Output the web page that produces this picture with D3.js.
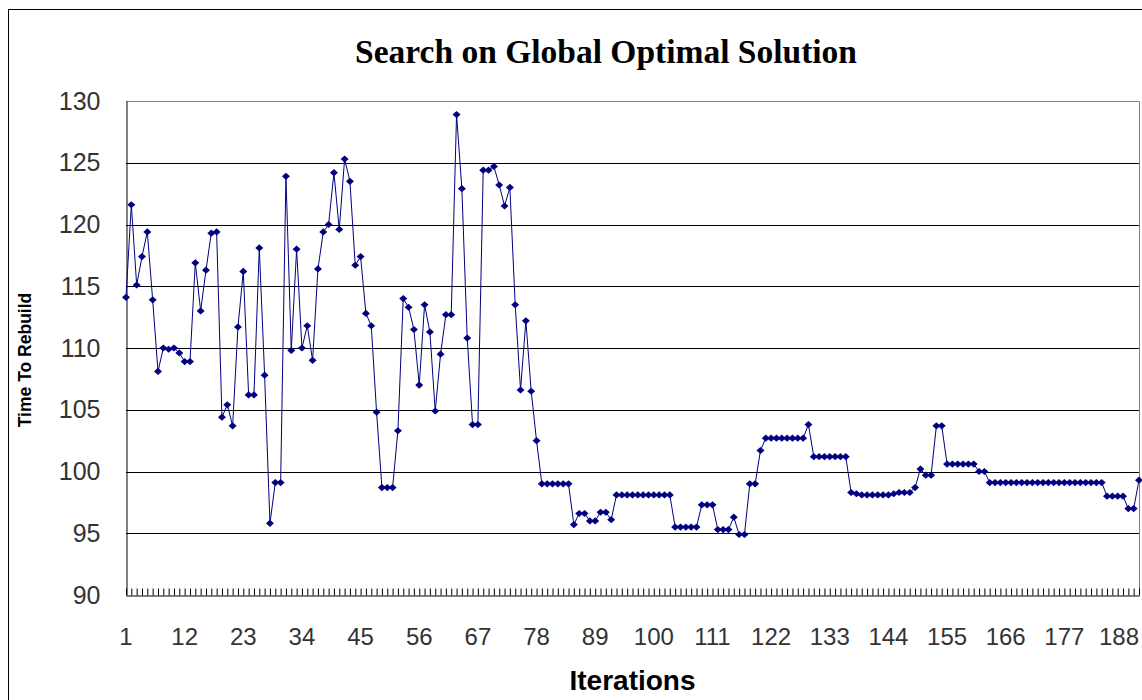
<!DOCTYPE html>
<html>
<head>
<meta charset="utf-8">
<script src="https://cdn.jsdelivr.net/npm/d3@7"></script>
<style>
  html, body { margin: 0; padding: 0; background: #fff; }
  svg { display: block; }
</style>
</head>
<body>
<svg id="chart" width="1142" height="700"></svg>
<script>
// Time-to-rebuild per search iteration
const iterationValues = [
  114.1, 121.6, 115.1, 117.4, 119.4, 113.9, 108.1, 110.0, 109.9, 110.0,
  109.6, 108.9, 108.9, 116.9, 113.0, 116.3, 119.3, 119.4, 104.4, 105.4,
  103.7, 111.7, 116.2, 106.2, 106.2, 118.1, 107.8, 95.8, 99.1, 99.1,
  123.9, 109.8, 118.0, 110.0, 111.8, 109.0, 116.4, 119.4, 120.0, 124.2,
  119.6, 125.3, 123.5, 116.7, 117.4, 112.8, 111.8, 104.8, 98.7, 98.7,
  98.7, 103.3, 114.0, 113.3, 111.5, 107.0, 113.5, 111.3, 104.9, 109.5,
  112.7, 112.7, 128.9, 122.9, 110.8, 103.8, 103.8, 124.4, 124.4, 124.7,
  123.2, 121.5, 123.0, 113.5, 106.6, 112.2, 106.5, 102.5, 99.0, 99.0,
  99.0, 99.0, 99.0, 99.0, 95.7, 96.6, 96.6, 96.0, 96.0, 96.7,
  96.7, 96.1, 98.1, 98.1, 98.1, 98.1, 98.1, 98.1, 98.1, 98.1,
  98.1, 98.1, 98.1, 95.5, 95.5, 95.5, 95.5, 95.5, 97.3, 97.3,
  97.3, 95.3, 95.3, 95.3, 96.3, 94.9, 94.9, 99.0, 99.0, 101.7,
  102.7, 102.7, 102.7, 102.7, 102.7, 102.7, 102.7, 102.7, 103.8, 101.2,
  101.2, 101.2, 101.2, 101.2, 101.2, 101.2, 98.3, 98.2, 98.1, 98.1,
  98.1, 98.1, 98.1, 98.1, 98.2, 98.3, 98.3, 98.3, 98.7, 100.2,
  99.7, 99.7, 103.7, 103.7, 100.6, 100.6, 100.6, 100.6, 100.6, 100.6,
  100.0, 100.0, 99.1, 99.1, 99.1, 99.1, 99.1, 99.1, 99.1, 99.1,
  99.1, 99.1, 99.1, 99.1, 99.1, 99.1, 99.1, 99.1, 99.1, 99.1,
  99.1, 99.1, 99.1, 99.1, 98.0, 98.0, 98.0, 98.0, 97.0, 97.0,
  99.3
];
const iterations = iterationValues.map((_, i) => i + 1);
const xTickLabels = [1, 12, 23, 34, 45, 56, 67, 78, 89, 100, 111, 122, 133, 144, 155, 166, 177, 188];
const yTickValues = [90, 95, 100, 105, 110, 115, 120, 125, 130];

const chartTitle = "Search on Global Optimal Solution";
const xTitle = "Iterations";
const yTitle = "Time To Rebuild";

const width = 1142;
const svg = d3.select("#chart");
const plot = { left: 126, right: 1139, top: 101, bottom: 595 };
const labelFont = "'Liberation Sans', Arial, sans-serif";

// outer chart-area frame
svg.append("rect")
  .attr("x", 8.5).attr("y", 9.5)
  .attr("width", 1196).attr("height", 720)
  .attr("fill", "#fff").attr("stroke", "#000").attr("stroke-width", 1);

const x = d3.scalePoint().domain(iterations).range([plot.left, plot.right]).padding(0);
const y = d3.scaleLinear().domain([90, 130]).range([plot.bottom, plot.top]);

// horizontal gridlines
svg.append("g")
  .selectAll("line")
  .data(yTickValues.filter(v => v > 90 && v < 130))
  .join("line")
  .attr("x1", plot.left).attr("x2", plot.right)
  .attr("y1", d => Math.round(y(d)) + 0.5).attr("y2", d => Math.round(y(d)) + 0.5)
  .attr("stroke", "#000").attr("stroke-width", 1);

// plot-area border (top and right)
svg.append("path")
  .attr("d", `M${plot.left},${plot.top + 0.5}H${plot.right + 0.5}V${plot.bottom}`)
  .attr("fill", "none").attr("stroke", "#808080").attr("stroke-width", 1);

// y axis
const yAxis = svg.append("g")
  .attr("transform", `translate(${plot.left + 0.5},0)`)
  .call(d3.axisLeft(y).tickValues(yTickValues).tickSize(0).tickPadding(26).tickFormat(d3.format("d")));
yAxis.select(".domain").attr("stroke", "#000");
yAxis.selectAll("text")
  .attr("font-family", labelFont)
  .attr("font-size", 25).attr("fill", "#333");

// x axis with a tick per iteration, drawn inward
const xAxis = svg.append("g")
  .attr("transform", `translate(0,${plot.bottom + 0.5})`)
  .call(d3.axisBottom(x).tickValues(iterations).tickSizeInner(-7).tickSizeOuter(0).tickFormat(""));
xAxis.select(".domain").attr("stroke", "#000");
xAxis.selectAll(".tick line").attr("stroke", "#000");
xAxis.selectAll(".tick text").remove();

// category labels every 11th iteration; an edge label is nudged inside the frame
svg.append("g")
  .selectAll("text")
  .data(xTickLabels)
  .join("text")
  .attr("x", d => x(d))
  .attr("y", 645)
  .attr("text-anchor", "middle")
  .attr("font-family", labelFont)
  .attr("font-size", 24).attr("fill", "#333")
  .text(d => d)
  .each(function (d) {
    const w = this.getComputedTextLength();
    const overflow = x(d) + w / 2 - (width - 3);
    if (overflow > 0) d3.select(this).attr("x", x(d) - overflow);
  });

// series line
const line = d3.line().x((d, i) => x(iterations[i])).y(d => y(d));
svg.append("path")
  .datum(iterationValues)
  .attr("d", line)
  .attr("fill", "none").attr("stroke", "#000080").attr("stroke-width", 1);

// diamond markers
const diamond = "M0,-3.6L4,0L0,3.6L-4,0Z";
svg.append("g")
  .selectAll("path")
  .data(iterationValues)
  .join("path")
  .attr("transform", (d, i) => `translate(${x(iterations[i])},${y(d)})`)
  .attr("d", diamond)
  .attr("fill", "#000080");

// titles
svg.append("text")
  .attr("x", 606).attr("y", 63)
  .attr("text-anchor", "middle")
  .attr("font-family", "'Liberation Serif', 'Times New Roman', serif")
  .attr("font-weight", "bold").attr("font-size", 33.5).attr("fill", "#000")
  .text(chartTitle);

svg.append("text")
  .attr("x", (plot.left + plot.right) / 2).attr("y", 690)
  .attr("text-anchor", "middle")
  .attr("font-family", labelFont)
  .attr("font-weight", "bold").attr("font-size", 28).attr("fill", "#000")
  .text(xTitle);

svg.append("text")
  .attr("transform", `translate(31,${(plot.top + plot.bottom) / 2 + 12}) rotate(-90)`)
  .attr("text-anchor", "middle")
  .attr("font-family", labelFont)
  .attr("font-weight", "bold").attr("font-size", 17.5).attr("fill", "#000")
  .text(yTitle);
</script>
</body>
</html>
